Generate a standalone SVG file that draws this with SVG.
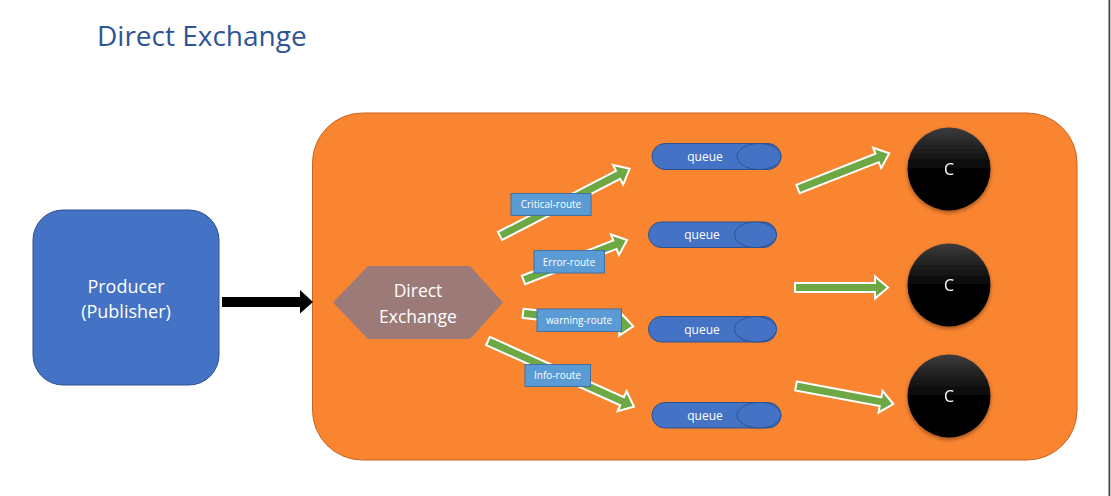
<svg xmlns="http://www.w3.org/2000/svg" width="1111" height="496" viewBox="0 0 1111 496">
<defs>
<style>
.t{font-family:"Open Sans","Noto Sans",sans-serif;fill:#fff;text-anchor:middle}
.q{fill:#4472C4;stroke:#2F528F;stroke-width:1}
.lbl{fill:#5B9BD5;stroke:#41719C;stroke-width:1}
.ga{fill:#6DA845;stroke:#fff;stroke-width:2;stroke-linejoin:miter}
</style>
<linearGradient id="cg" x1="0" y1="0" x2="0" y2="1">
<stop offset="0" stop-color="#3c3c3c"/>
<stop offset="0.5" stop-color="#050505"/>
<stop offset="1" stop-color="#000"/>
</linearGradient>
<filter id="sh" x="-20%" y="-20%" width="140%" height="140%">
<feGaussianBlur in="SourceAlpha" stdDeviation="2"/>
<feOffset dx="0" dy="1.5"/>
<feComponentTransfer><feFuncA type="linear" slope="0.4"/></feComponentTransfer>
<feMerge><feMergeNode/><feMergeNode in="SourceGraphic"/></feMerge>
</filter>
</defs>
<rect width="1111" height="496" fill="#fff"/>
<rect x="1108.5" y="0" width="1.8" height="496" fill="#444"/>
<text x="97" y="46" font-family="'Open Sans','Noto Sans',sans-serif" font-size="28" fill="#2F5597">Direct Exchange</text>

<g id="broker">
<rect x="312.5" y="113" width="764.5" height="347" rx="50" ry="50" fill="#FA8531" stroke="#C8641E" stroke-width="1"/>
</g>

<g id="producer">
<rect x="33" y="210" width="186" height="175" rx="30" ry="30" fill="#4472C4" stroke="#2F528F" stroke-width="1"/>
<text class="t" x="126" y="293" font-size="18">Producer</text>
<text class="t" x="126" y="318" font-size="18">(Publisher)</text>
</g>

<g id="exchange">
<polygon points="333,302.5 368,266 470,266 503,302.5 470,339 368,339" fill="#9C7A77"/>
<text class="t" x="418" y="297" font-size="17.5">Direct</text>
<text class="t" x="418" y="322.5" font-size="17.5">Exchange</text>
</g>

<g id="queue1">
<rect class="q" x="652" y="143.5" width="129" height="26" rx="13"/>
<ellipse class="q" cx="759" cy="156.5" rx="22" ry="13"/>
<text class="t" x="705" y="161" font-size="12">queue</text>
</g>
<g id="queue2">
<rect class="q" x="648.5" y="222" width="128" height="25.5" rx="12.75"/>
<ellipse class="q" cx="755.5" cy="234.75" rx="21" ry="12.75"/>
<text class="t" x="702" y="239" font-size="12">queue</text>
</g>
<g id="queue3">
<rect class="q" x="648.5" y="316.5" width="128" height="25.5" rx="12.75"/>
<ellipse class="q" cx="755.5" cy="329.25" rx="21" ry="12.75"/>
<text class="t" x="702" y="334" font-size="12">queue</text>
</g>
<g id="queue4">
<rect class="q" x="652" y="402.5" width="129" height="25.5" rx="12.75"/>
<ellipse class="q" cx="759" cy="415.25" rx="22" ry="12.75"/>
<text class="t" x="705" y="420" font-size="12">queue</text>
</g>

<g id="consumer1" filter="url(#sh)">
<circle cx="949" cy="169" r="41.5" fill="url(#cg)"/>
<text class="t" x="949" y="175" font-size="16">C</text>
</g>
<g id="consumer2" filter="url(#sh)">
<circle cx="949" cy="285" r="41.5" fill="url(#cg)"/>
<text class="t" x="949" y="291" font-size="16">C</text>
</g>
<g id="consumer3" filter="url(#sh)">
<circle cx="949" cy="396" r="41.5" fill="url(#cg)"/>
<text class="t" x="949" y="402" font-size="16">C</text>
</g>

<g id="connectors">
<polygon points="222,297 300,297 300,290 313,302 300,313.5 300,307 222,307" fill="#000"/>
<polygon class="ga" transform="translate(500,236) rotate(-27.4)" points="0,-4.5 133,-4.5 133,-11 146,0 133,11 133,4.5 0,4.5"/>
<polygon class="ga" transform="translate(523.5,280) rotate(-21.1)" points="0,-4.5 98,-4.5 98,-11 111,0 98,11 98,4.5 0,4.5"/>
<polygon class="ga" transform="translate(523,313.3) rotate(6.7)" points="0,-4.5 98,-4.5 98,-11 111,0 98,11 98,4.5 0,4.5"/>
<polygon class="ga" transform="translate(488,341) rotate(24.2)" points="0,-4.5 147,-4.5 147,-11 160,0 147,11 147,4.5 0,4.5"/>
<polygon class="ga" transform="translate(798,189) rotate(-21.4)" points="0,-4.5 85,-4.5 85,-11 98,0 85,11 85,4.5 0,4.5"/>
<polygon class="ga" transform="translate(795,287.5)" points="0,-4.5 80,-4.5 80,-11 93,0 80,11 80,4.5 0,4.5"/>
<polygon class="ga" transform="translate(796,386) rotate(10.5)" points="0,-4.5 86,-4.5 86,-11 99,0 86,11 86,4.5 0,4.5"/>
<g id="label-critical">
<rect class="lbl" x="511" y="193.5" width="80" height="22"/>
<text class="t" x="551" y="208" font-size="10">Critical-route</text>
</g>
<g id="label-error">
<rect class="lbl" x="534" y="250.5" width="70.5" height="22.5"/>
<text class="t" x="569" y="265.5" font-size="10">Error-route</text>
</g>
<g id="label-warning">
<rect class="lbl" x="537" y="309" width="84.5" height="22.5"/>
<text class="t" x="579" y="324" font-size="10">warning-route</text>
</g>
<g id="label-info">
<rect class="lbl" x="525" y="364.5" width="65.5" height="22"/>
<text class="t" x="557.5" y="379" font-size="10">Info-route</text>
</g>
</g>
</svg>
